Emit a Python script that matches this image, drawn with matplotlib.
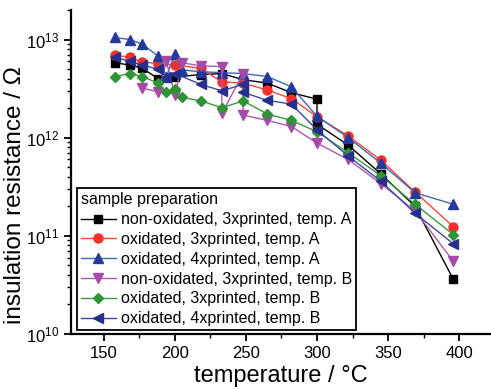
import numpy as np
import matplotlib
matplotlib.use('Agg')
from matplotlib import pyplot as plt
from matplotlib.ticker import LogLocator, MultipleLocator, NullFormatter

plt.rcParams['font.family'] = ['Liberation Sans', 'DejaVu Sans']

# non-oxidated, 3xprinted, temp. A
T1 = [158, 168, 177, 188, 200, 218, 233, 248, 265, 282, 300, 300, 322, 345, 369, 396]
R1 = [5.8e12, 5.5e12, 5.1e12, 4.0e12, 4.15e12, 4.4e12, 4.5e12, 3.9e12, 3.6e12, 2.87e12,
      2.47e12, 1.37e12, 8.4e11, 4.27e11, 2.0e11, 3.6e10]
# oxidated, 3xprinted, temp. A
T2 = [158, 168, 177, 188, 200, 218, 233, 248, 265, 282, 300, 322, 345, 369, 396]
R2 = [6.95e12, 6.6e12, 5.9e12, 5.7e12, 5.5e12, 5.1e12, 3.7e12, 3.6e12, 3.06e12, 2.5e12,
      1.64e12, 1.04e12, 5.9e11, 2.8e11, 1.24e11]
# oxidated, 4xprinted, temp. A
T3 = [158, 168, 177, 188, 194, 200, 205, 218, 233, 248, 265, 282, 300, 322, 345, 369, 396]
R3 = [1.05e13, 1.0e13, 9.0e12, 6.8e12, 4.2e12, 7.2e12, 4.9e12, 4.7e12, 4.6e12, 4.5e12,
      4.2e12, 3.3e12, 1.65e12, 1.0e12, 5.5e11, 2.75e11, 2.1e11]
# non-oxidated, 3xprinted, temp. B
T4 = [177, 188, 194, 200, 205, 218, 233, 233, 248, 248, 265, 282, 300, 322, 345, 369, 396]
R4 = [3.2e12, 2.94e12, 6.0e12, 2.7e12, 5.8e12, 5.4e12, 5.3e12, 1.77e12, 4.5e12, 1.7e12,
      1.5e12, 1.3e12, 8.8e11, 6.0e11, 3.4e11, 1.8e11, 5.5e10]
# oxidated, 3xprinted, temp. B
T5 = [158, 168, 177, 188, 194, 200, 205, 218, 233, 248, 265, 282, 300, 322, 345, 369, 396]
R5 = [4.2e12, 4.5e12, 4.2e12, 3.6e12, 2.94e12, 3.1e12, 2.57e12, 2.38e12, 2.02e12, 2.37e12,
      1.74e12, 1.5e12, 1.15e12, 7.0e11, 4.1e11, 2.1e11, 1.03e11]
# oxidated, 4xprinted, temp. B
T6 = [158, 168, 177, 188, 194, 200, 218, 233, 248, 248, 265, 282, 300, 322, 345, 369, 396]
R6 = [6.6e12, 6.0e12, 5.5e12, 5.0e12, 4.2e12, 4.5e12, 3.5e12, 3.0e12, 3.5e12, 2.9e12,
      2.4e12, 2.2e12, 1.2e12, 6.5e11, 3.6e11, 1.7e11, 8.3e10]

labels = ['non-oxidated, 3xprinted, temp. A', 'oxidated, 3xprinted, temp. A',
          'oxidated, 4xprinted, temp. A', 'non-oxidated, 3xprinted, temp. B',
          'oxidated, 3xprinted, temp. B', 'oxidated, 4xprinted, temp. B']
series = [(T1, R1), (T2, R2), (T3, R3), (T4, R4), (T5, R5), (T6, R6)]
markers = ['s', 'o', '^', 'v', 'D', '<']
msizes = [6, 6.5, 7, 7, 5.5, 7]
mcolors = ['#000000', '#f8302a', '#25399b', '#a64aa8', '#2f9434', '#262f8c']
lcolors = ['#000000', '#f4483f', '#4266b8', '#b056b4', '#3a9a3f', '#3a4aa4']

fig = plt.figure(figsize=(4.91, 3.89), dpi=100)
ax = fig.add_axes([71/491, 1-334/389, 420/491, 324/389])

for (t, r), lab, m, ms, mc, lc in zip(series, labels, markers, msizes, mcolors, lcolors):
    ax.plot(t, r, color=lc, lw=1.0, marker=m, ms=ms, mfc=mc, mec=mc, label=lab)

ax.set_yscale('log')
ax.set_xlim(126.8, 422.5)
ax.set_ylim(1e10, 2.0e13)
ax.xaxis.set_major_locator(MultipleLocator(50))
ax.xaxis.set_minor_locator(MultipleLocator(25))
ax.yaxis.set_major_locator(LogLocator(base=10))
ax.yaxis.set_minor_locator(LogLocator(base=10, subs=np.arange(2, 10)))
ax.yaxis.set_minor_formatter(NullFormatter())

for s in ['top', 'right']:
    ax.spines[s].set_visible(False)
for s in ['left', 'bottom']:
    ax.spines[s].set_linewidth(1.6)
ax.tick_params(which='major', direction='out', length=5, width=1.3, labelsize=12)
ax.tick_params(which='minor', direction='out', length=3, width=1.0)

ax.set_xlabel('temperature / °C', fontsize=17)
ax.set_ylabel('insulation resistance / Ω', fontsize=17.5)
ax.yaxis.set_label_coords(-0.108, 0.43)
ax.xaxis.set_label_coords(0.5, (334 - 382) / 324)
ax.xaxis.label.set_verticalalignment('baseline')

leg = ax.legend(title='sample preparation', loc='lower left', bbox_to_anchor=(0.014, 0.012),
                borderaxespad=0, fontsize=11.5, title_fontsize=11.5, fancybox=False,
                edgecolor='black', framealpha=1, handlelength=2.2, handletextpad=0.3,
                labelspacing=0.3, borderpad=0.25)
leg.get_frame().set_linewidth(1.3)
leg._legend_box.align = 'left'

fig.savefig('out.png', dpi=100)
